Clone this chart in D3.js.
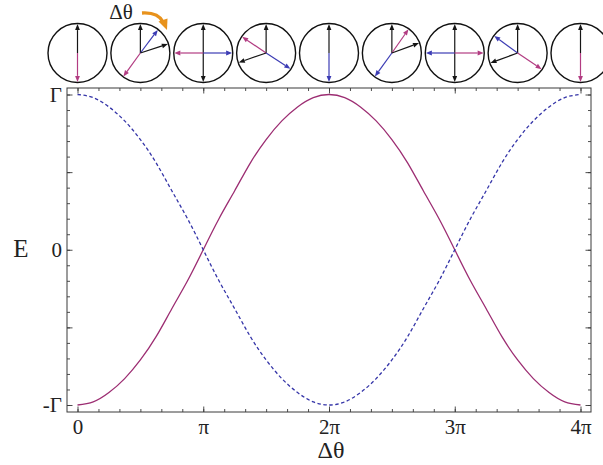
<!DOCTYPE html>
<html>
<head>
<meta charset="utf-8">
<script src="https://cdn.jsdelivr.net/npm/d3@7"></script>
<style>
  body { margin: 0; background: #fff; }
  svg { display: block; }
</style>
</head>
<body>
<div id="chart"></div>
<script>
const width = 603;
const height = 465;
const serif = "'Liberation Serif', 'DejaVu Serif', serif";

// Δθ sample points, in units of π
const deltaTheta = [0, 0.125, 0.25, 0.375, 0.5, 0.625, 0.75, 0.875, 1, 1.125, 1.25, 1.375, 1.5, 1.625, 1.75, 1.875, 2,
    2.125, 2.25, 2.375, 2.5, 2.625, 2.75, 2.875, 3, 3.125, 3.25, 3.375, 3.5, 3.625, 3.75, 3.875, 4];
// solid (purple) curve, in units of Γ
const energySolid = [-1, -0.98, -0.92, -0.83, -0.71, -0.56, -0.38, -0.2, 0, 0.2, 0.38, 0.56, 0.71, 0.83, 0.92, 0.98, 1,
    0.98, 0.92, 0.83, 0.71, 0.56, 0.38, 0.2, 0, -0.2, -0.38, -0.56, -0.71, -0.83, -0.92, -0.98, -1];
// dashed (blue) curve, in units of Γ
const energyDashed = [1, 0.98, 0.92, 0.83, 0.71, 0.56, 0.38, 0.2, 0, -0.2, -0.38, -0.56, -0.71, -0.83, -0.92, -0.98, -1,
    -0.98, -0.92, -0.83, -0.71, -0.56, -0.38, -0.2, 0, 0.2, 0.38, 0.56, 0.71, 0.83, 0.92, 0.98, 1];

// tick labels
const xTickValues = [0, 1, 2, 3, 4];
const xTickLabels = ["0", "π", "2π", "3π", "4π"];
const yTickValues = [-1, 0, 1];
const yTickLabels = ["-Γ", "0", "Γ"];

// the little spin diagrams above the plot: position (units of π) and arrows [angle from up, colour]
const diagramAt = [0, 0.5, 1, 1.5, 2, 2.5, 3, 3.5, 4];
const diagramArrows = [
    [[0, "k"], [180, "p"]],
    [[0, "k"], [37, "b"], [72, "k"], [216, "p"]],
    [[0, "k"], [180, "k"], [270, "p"], [90, "b"]],
    [[0, "k"], [304, "p"], [251, "k"], [123, "b"]],
    [[0, "k"], [180, "b"]],
    [[0, "k"], [35, "p"], [70, "k"], [216, "b"]],
    [[0, "k"], [180, "k"], [270, "b"], [90, "p"]],
    [[0, "k"], [306, "b"], [250, "k"], [124, "p"]],
    [[0, "k"], [180, "p"]]
];

const arrowColor = { k: "#151515", b: "#3c3cb4", p: "#b23c82" };
const purple = "#9c2d72";
const blue = "#3535a8";
const axisColor = "#3a3a3a";

// frame of the plot
const frame = { left: 67, right: 591, top: 88, bottom: 412 };

const svg = d3.select("#chart")
    .append("svg")
    .attr("width", width)
    .attr("height", height);

svg.append("rect").attr("width", width).attr("height", height).attr("fill", "#fff");

const x = d3.scaleLinear().domain([0, 4]).range([77.5, 580.5]);
const y = d3.scaleLinear().domain([-1, 1]).range([405, 94.5]);

const minorX = d3.range(0, 24.5).map(i => i / 6);
const minorY = d3.range(-10, 10.5).map(i => i / 10);
const majorY = [-1, -0.5, 0, 0.5, 1];

function styleAxis(g) {
    g.select(".domain").remove();
    g.selectAll("line").attr("stroke", axisColor).attr("stroke-width", 0.9);
}

// ticks on all four sides, pointing inward
[[d3.axisBottom, frame.bottom], [d3.axisTop, frame.top]].forEach(([ax, pos]) => {
    svg.append("g").attr("transform", `translate(0,${pos})`)
        .call(ax(x).tickValues(minorX).tickSize(-3).tickFormat(""))
        .call(styleAxis);
    svg.append("g").attr("transform", `translate(0,${pos})`)
        .call(ax(x).tickValues(xTickValues).tickSize(-5.5).tickFormat(""))
        .call(styleAxis);
});
[[d3.axisLeft, frame.left], [d3.axisRight, frame.right]].forEach(([ax, pos]) => {
    svg.append("g").attr("transform", `translate(${pos},0)`)
        .call(ax(y).tickValues(minorY).tickSize(-3).tickFormat(""))
        .call(styleAxis);
    svg.append("g").attr("transform", `translate(${pos},0)`)
        .call(ax(y).tickValues(majorY).tickSize(-5.5).tickFormat(""))
        .call(styleAxis);
});

// tick labels
svg.append("g").attr("transform", `translate(0,${frame.bottom})`)
    .call(d3.axisBottom(x).tickValues(xTickValues).tickSize(0).tickPadding(7)
        .tickFormat((d, i) => xTickLabels[i]))
    .call(g => g.select(".domain").remove())
    .selectAll("text")
    .style("font-family", serif).style("font-size", "21px").attr("fill", "#222");

svg.append("g").attr("transform", `translate(${frame.left},0)`)
    .call(d3.axisLeft(y).tickValues(yTickValues).tickSize(0).tickPadding(5)
        .tickFormat((d, i) => yTickLabels[i]))
    .call(g => g.select(".domain").remove())
    .selectAll("text")
    .style("font-family", serif).style("font-size", "21px").attr("fill", "#222");

svg.append("rect")
    .attr("x", frame.left).attr("y", frame.top)
    .attr("width", frame.right - frame.left).attr("height", frame.bottom - frame.top)
    .attr("fill", "none").attr("stroke", axisColor).attr("stroke-width", 1);

// axis titles
svg.append("text").attr("x", 331).attr("y", 458).attr("text-anchor", "middle")
    .style("font-family", serif).style("font-size", "24px").attr("fill", "#222").text("Δθ");
svg.append("text").attr("x", 21).attr("y", 257).attr("text-anchor", "middle")
    .style("font-family", serif).style("font-size", "25px").attr("fill", "#222").text("E");

// curves
const line = d3.line()
    .x((d, i) => x(deltaTheta[i]))
    .y(d => y(d))
    .curve(d3.curveNatural);

svg.append("path").datum(energySolid)
    .attr("d", line).attr("fill", "none")
    .attr("stroke", purple).attr("stroke-width", 1.3);

svg.append("path").datum(energyDashed)
    .attr("d", line).attr("fill", "none")
    .attr("stroke", blue).attr("stroke-width", 1.3)
    .attr("stroke-dasharray", "3.5,2.5");

// spin diagrams
const cy = 53, r = 29.5;
const diag = svg.append("g");

diagramAt.forEach((pos, i) => {
    const cx = x(pos);
    const g = diag.append("g");
    g.append("circle").attr("cx", cx).attr("cy", cy).attr("r", r)
        .attr("fill", "none").attr("stroke", "#111").attr("stroke-width", 1.4);

    diagramArrows[i].forEach(([ang, c]) => {
        const a = ang * Math.PI / 180;
        const ux = Math.sin(a), uy = -Math.cos(a);
        const L = r - 0.6, head = 6, hw = 2.4;
        const tx = cx + ux * L, ty = cy + uy * L;
        const bx = cx + ux * (L - head), by = cy + uy * (L - head);
        g.append("line")
            .attr("x1", cx).attr("y1", cy).attr("x2", bx).attr("y2", by)
            .attr("stroke", arrowColor[c]).attr("stroke-width", 1.2);
        g.append("path")
            .attr("d", `M${tx},${ty}L${bx - uy * hw},${by + ux * hw}L${bx + uy * hw},${by - ux * hw}Z`)
            .attr("fill", arrowColor[c]);
    });
});

// Δθ label with the orange rotation arrow
svg.append("text").attr("x", 121).attr("y", 19).attr("text-anchor", "middle")
    .style("font-family", serif).style("font-size", "21px").attr("fill", "#222").text("Δθ");

svg.append("path")
    .attr("d", "M142,13 Q158,12 163,22")
    .attr("fill", "none").attr("stroke", "#e8921c").attr("stroke-width", 3.4);
svg.append("path")
    .attr("d", "M167,30 L158.5,21.5 L167.5,18.5 Z")
    .attr("fill", "#e8921c");
</script>
</body>
</html>
